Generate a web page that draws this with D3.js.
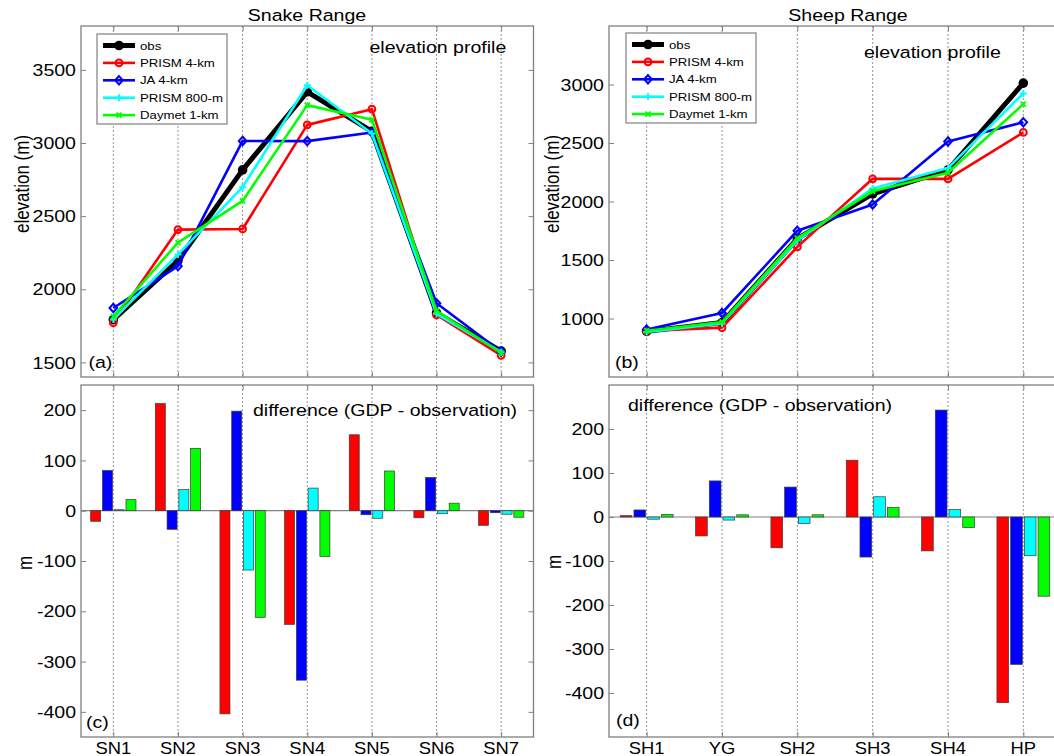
<!DOCTYPE html>
<html>
<head>
<meta charset="utf-8">
<script src="https://cdn.jsdelivr.net/npm/d3@7"></script>
<style>
  body { margin: 0; background: #fff; }
  svg { display: block; font-family: "Liberation Sans", Arial, Helvetica, sans-serif; }
</style>
</head>
<body>
<script>
// ---------- data ----------
const snakeSites = ["SN1", "SN2", "SN3", "SN4", "SN5", "SN6", "SN7"];
const sheepSites = ["SH1", "YG", "SH2", "SH3", "SH4", "HP"];
const seriesNames = ["obs", "PRISM 4-km", "JA 4-km", "PRISM 800-m", "Daymet 1-km"];

// station elevations (m), Snake Range
const snakeObs      = [1792, 2195, 2816, 3350, 3080, 1838, 1577];
const snakePrism4   = [1771, 2408, 2412, 3124, 3231, 1824, 1548];
const snakeJA4      = [1872, 2158, 3014, 3013, 3072, 1904, 1573];
const snakePrism800 = [1794, 2237, 2698, 3395, 3065, 1832, 1570];
const snakeDaymet   = [1814, 2319, 2604, 3259, 3159, 1853, 1564];

// station elevations (m), Sheep Range
const sheepObs      = [890, 965, 1682, 2065, 2270, 3012];
const sheepPrism4   = [893, 922, 1612, 2194, 2193, 2590];
const sheepJA4      = [906, 1047, 1750, 1974, 2513, 2677];
const sheepPrism800 = [885, 958, 1667, 2111, 2287, 2924];
const sheepDaymet   = [896, 970, 1687, 2087, 2246, 2832];

// gridded product minus observation (m), Snake Range
const snakeDiffPrism4   = [-21, 213, -404, -226, 151, -14, -29];
const snakeDiffJA4      = [80, -37, 198, -337, -8, 66, -4];
const snakeDiffPrism800 = [2, 42, -118, 45, -15, -6, -7];
const snakeDiffDaymet   = [22, 124, -212, -91, 79, 15, -13];

// gridded product minus observation (m), Sheep Range
const sheepDiffPrism4   = [3, -43, -70, 129, -77, -422];
const sheepDiffJA4      = [16, 82, 68, -91, 243, -335];
const sheepDiffPrism800 = [-5, -7, -15, 46, 17, -88];
const sheepDiffDaymet   = [6, 5, 5, 22, -24, -180];

// axis ticks
const snakeElevTicks = [1500, 2000, 2500, 3000, 3500];
const sheepElevTicks = [1000, 1500, 2000, 2500, 3000];
const diffTicks = [-400, -300, -200, -100, 0, 100, 200];

// ---------- style ----------
const colors = ["#000000", "#ff0000", "#0000ff", "#00ffff", "#00ff00"];
const markers = ["dot", "circle", "diamond", "plus", "cross"];
const axisGray = "#808080";
const SX = 1.15;   // horizontal stretch of lettering

const W = 1054, H = 756;
const svg = d3.select("body").append("svg").attr("width", W).attr("height", H);

function label(g, x, y, s, opt = {}) {
  const size = opt.size || 17, anchor = opt.anchor || "start";
  const tr = `translate(${x},${y}) scale(${SX},1)` + (opt.rotate ? ` rotate(${opt.rotate})` : "");
  g.append("g").attr("transform", tr)
    .append("text")
    .attr("text-anchor", anchor)
    .attr("dy", "0.36em")
    .attr("font-size", size)
    .attr("fill", "#000")
    .text(s);
}

function makePanel(box, cats, yDomain) {
  const x = d3.scaleLinear().domain([0.5, cats.length + 0.5]).range([box.x0, box.x1]);
  const y = d3.scaleLinear().domain(yDomain).range([box.y1, box.y0]);
  return { x, y, box, cats };
}

function drawGrid(g, p) {
  g.append("g").selectAll("line").data(p.cats).join("line")
    .attr("x1", (d, i) => p.x(i + 1)).attr("x2", (d, i) => p.x(i + 1))
    .attr("y1", p.box.y0).attr("y2", p.box.y1)
    .attr("stroke", "#7a7a7a").attr("stroke-width", 0.8)
    .attr("stroke-dasharray", "2,2");
}

function drawFrame(g, p, yTicks, showCats) {
  const { x, y, box, cats } = p;
  const idx = cats.map((d, i) => i + 1);
  const style = sel => {
    sel.select(".domain").remove();
    sel.selectAll(".tick line").attr("stroke", axisGray).attr("stroke-width", 1);
  };
  g.append("g").attr("transform", `translate(${box.x0},0)`)
    .call(d3.axisLeft(y).tickValues(yTicks).tickSize(-5).tickFormat("")).call(style);
  g.append("g").attr("transform", `translate(${box.x1},0)`)
    .call(d3.axisRight(y).tickValues(yTicks).tickSize(-5).tickFormat("")).call(style);
  g.append("g").attr("transform", `translate(0,${box.y1})`)
    .call(d3.axisBottom(x).tickValues(idx).tickSize(-5).tickFormat("")).call(style);
  g.append("g").attr("transform", `translate(0,${box.y0})`)
    .call(d3.axisTop(x).tickValues(idx).tickSize(-5).tickFormat("")).call(style);
  g.append("rect")
    .attr("x", box.x0).attr("y", box.y0)
    .attr("width", box.x1 - box.x0).attr("height", box.y1 - box.y0)
    .attr("fill", "none").attr("stroke", axisGray).attr("stroke-width", 1.3);
  yTicks.forEach(t => label(g, box.x0 - 5, y(t), String(t), { anchor: "end" }));
  if (showCats) {
    cats.forEach((c, i) => label(g, x(i + 1), box.y1 + 11, c, { anchor: "middle", size: 16 }));
  }
}

function marker(g, kind, cx, cy, color) {
  if (kind === "dot") {
    g.append("circle").attr("cx", cx).attr("cy", cy).attr("r", 4.8).attr("fill", color);
  } else if (kind === "circle") {
    g.append("circle").attr("cx", cx).attr("cy", cy).attr("r", 3.4)
      .attr("fill", "none").attr("stroke", color).attr("stroke-width", 2);
  } else if (kind === "diamond") {
    g.append("path").attr("transform", `translate(${cx},${cy})`)
      .attr("d", "M0,-4.2L3.8,0L0,4.2L-3.8,0Z")
      .attr("fill", "none").attr("stroke", color).attr("stroke-width", 2);
  } else if (kind === "plus") {
    g.append("path").attr("transform", `translate(${cx},${cy})`)
      .attr("d", "M-3.5,0H3.5M0,-3.5V3.5")
      .attr("stroke", color).attr("stroke-width", 2);
  } else {
    g.append("path").attr("transform", `translate(${cx},${cy})`)
      .attr("d", "M-2.5,-2.5L2.5,2.5M-2.5,2.5L2.5,-2.5")
      .attr("stroke", color).attr("stroke-width", 2);
  }
}

function drawLines(g, p, series) {
  series.forEach((vals, k) => {
    const line = d3.line().x((d, i) => p.x(i + 1)).y(d => p.y(d));
    g.append("path").datum(vals).attr("d", line)
      .attr("fill", "none").attr("stroke", colors[k])
      .attr("stroke-width", k === 0 ? 5 : 2.6)
      .attr("stroke-linejoin", "round");
    vals.forEach((v, i) => marker(g, markers[k], p.x(i + 1), p.y(v), colors[k]));
  });
}

function drawLegend(g, lx, ly) {
  const w = 130, h = 90, step = 17.4, first = 11.5;
  g.append("rect").attr("x", lx).attr("y", ly).attr("width", w).attr("height", h)
    .attr("fill", "#fff").attr("stroke", axisGray).attr("stroke-width", 1.2);
  seriesNames.forEach((name, k) => {
    const yy = ly + first + k * step;
    g.append("line").attr("x1", lx + 6).attr("x2", lx + 38).attr("y1", yy).attr("y2", yy)
      .attr("stroke", colors[k]).attr("stroke-width", k === 0 ? 5 : 2.6);
    marker(g, markers[k], lx + 22, yy, colors[k]);
    label(g, lx + 43, yy, name, { size: 11.5 });
  });
}

function drawBars(g, p, series) {
  const pitch = 0.182, bw = 0.155;
  g.append("line")
    .attr("x1", p.box.x0).attr("x2", p.box.x1)
    .attr("y1", p.y(0)).attr("y2", p.y(0))
    .attr("stroke", axisGray).attr("stroke-width", 1.2);
  series.forEach((vals, k) => {
    const off = (k - 1.5) * pitch;
    g.append("g").selectAll("rect").data(vals).join("rect")
      .attr("x", (d, i) => p.x(i + 1 + off - bw / 2))
      .attr("width", p.x(1 + bw) - p.x(1))
      .attr("y", d => p.y(Math.max(0, d)))
      .attr("height", d => Math.abs(p.y(0) - p.y(d)))
      .attr("fill", colors[k + 1])
      .attr("stroke", "#3a3a3a").attr("stroke-width", 0.7);
  });
}

// ---------- panels ----------
const boxA = { x0: 81, x1: 533.5, y0: 26, y1: 377 };
const boxB = { x0: 609, x1: 1061, y0: 26, y1: 377 };
const boxC = { x0: 81, x1: 533.5, y0: 385, y1: 737 };
const boxD = { x0: 609, x1: 1061, y0: 385, y1: 737 };

const pA = makePanel(boxA, snakeSites, [1400, 3800]);
const pB = makePanel(boxB, sheepSites, [500, 3500]);
const pC = makePanel(boxC, snakeSites, [-450, 250]);
const pD = makePanel(boxD, sheepSites, [-500, 300]);

// (a) Snake Range elevation profile
const gA = svg.append("g");
drawGrid(gA, pA);
drawLines(gA, pA, [snakeObs, snakePrism4, snakeJA4, snakePrism800, snakeDaymet]);
drawFrame(gA, pA, snakeElevTicks, false);
drawLegend(gA, 97, 34);
label(gA, 369.5, 46.7, "elevation profile");
label(gA, 88.5, 361.7, "(a)");
label(gA, 307, 15, "Snake Range", { anchor: "middle" });
label(gA, 22, 184, "elevation (m)", { anchor: "middle", rotate: -90 });

// (b) Sheep Range elevation profile
const gB = svg.append("g");
drawGrid(gB, pB);
drawLines(gB, pB, [sheepObs, sheepPrism4, sheepJA4, sheepPrism800, sheepDaymet]);
drawFrame(gB, pB, sheepElevTicks, false);
drawLegend(gB, 626, 33);
label(gB, 864, 52.3, "elevation profile");
label(gB, 615, 361.7, "(b)");
label(gB, 848, 15, "Sheep Range", { anchor: "middle" });
label(gB, 552, 184, "elevation (m)", { anchor: "middle", rotate: -90 });

// (c) Snake Range differences
const gC = svg.append("g");
drawGrid(gC, pC);
drawBars(gC, pC, [snakeDiffPrism4, snakeDiffJA4, snakeDiffPrism800, snakeDiffDaymet]);
drawFrame(gC, pC, diffTicks, true);
label(gC, 253, 410, "difference (GDP - observation)");
label(gC, 86, 721.7, "(c)");
label(gC, 24.7, 563, "m", { anchor: "middle", rotate: -90 });

// (d) Sheep Range differences
const gD = svg.append("g");
drawGrid(gD, pD);
drawBars(gD, pD, [sheepDiffPrism4, sheepDiffJA4, sheepDiffPrism800, sheepDiffDaymet]);
drawFrame(gD, pD, diffTicks, true);
label(gD, 628, 405, "difference (GDP - observation)");
label(gD, 616, 720, "(d)");
label(gD, 554, 562, "m", { anchor: "middle", rotate: -90 });
</script>
</body>
</html>
